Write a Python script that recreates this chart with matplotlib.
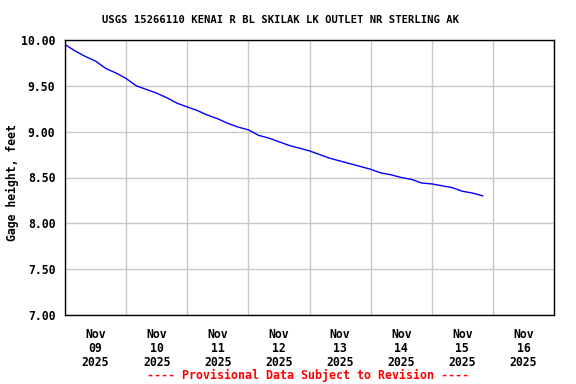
import matplotlib
matplotlib.use("Agg")
import matplotlib.pyplot as plt
import matplotlib.dates as mdates
import numpy as np
import datetime as dt

# Gage height readings every 4 hours starting 2025-11-09 00:00
start = dt.datetime(2025, 11, 9, 0, 0)
step_hours = 4
gage_height = [9.95, 9.88, 9.82, 9.77, 9.69, 9.64,
               9.58, 9.50, 9.46, 9.42, 9.37, 9.31,
               9.27, 9.23, 9.18, 9.14, 9.09, 9.05,
               9.02, 8.96, 8.93, 8.89, 8.85, 8.82,
               8.79, 8.75, 8.71, 8.68, 8.65, 8.62,
               8.59, 8.55, 8.53, 8.50, 8.48, 8.44,
               8.43, 8.41, 8.39, 8.35, 8.33, 8.30]
times = [start + dt.timedelta(hours=step_hours * i) for i in range(len(gage_height))]

day_labels = ["Nov\n09\n2025", "Nov\n10\n2025", "Nov\n11\n2025", "Nov\n12\n2025",
              "Nov\n13\n2025", "Nov\n14\n2025", "Nov\n15\n2025", "Nov\n16\n2025"]
y_ticks = [7.00, 7.50, 8.00, 8.50, 9.00, 9.50, 10.00]

title = "USGS 15266110 KENAI R BL SKILAK LK OUTLET NR STERLING AK"
ylabel = "Gage height, feet"
footer = "---- Provisional Data Subject to Revision ----"

font = "DejaVu Sans Mono"

fig = plt.figure(figsize=(5.76, 3.84), dpi=100)
ax = fig.add_axes([65/576, 1-315/384, (554-65)/576, (315-40)/384])

ax.plot(times, gage_height, color="#0000ff", linewidth=1.0)

x0 = dt.datetime(2025, 11, 9)
x1 = dt.datetime(2025, 11, 17)
ax.set_xlim(x0, x1)
ax.set_ylim(7.0, 10.0)

major = [x0 + dt.timedelta(days=i) for i in range(9)]
minor = [x0 + dt.timedelta(days=i, hours=12) for i in range(8)]
ax.set_xticks(major)
ax.set_xticklabels([])
ax.set_xticks(minor, minor=True)
ax.set_xticklabels(day_labels, minor=True, fontfamily=font, fontweight="bold",
                   fontsize=8.3, linespacing=1.15)
ax.set_yticks(y_ticks)
ax.set_yticklabels([f"{v:.2f}" for v in y_ticks], fontfamily=font,
                   fontweight="bold", fontsize=8.3)

ax.tick_params(axis="both", which="both", length=0)
ax.tick_params(axis="x", which="minor", pad=9)
ax.tick_params(axis="y", pad=7)
ax.grid(True, which="major", color="#c8c8c8", linewidth=1.0)
ax.set_axisbelow(True)
for s in ax.spines.values():
    s.set_linewidth(1.0)
    s.set_color("black")

fig.text(12/576, 1-183/384, ylabel, rotation=90, ha="center", va="center",
         fontfamily=font, fontweight="bold", fontsize=8.3)
fig.text(280/576, 1-20/384, title, ha="center", va="center",
         fontfamily=font, fontweight="bold", fontsize=7.6)
fig.text(308/576, 1-375/384, footer, ha="center", va="center", color="#ff0000",
         fontfamily=font, fontweight="bold", fontsize=8.4)

fig.savefig("out.png", dpi=100)
